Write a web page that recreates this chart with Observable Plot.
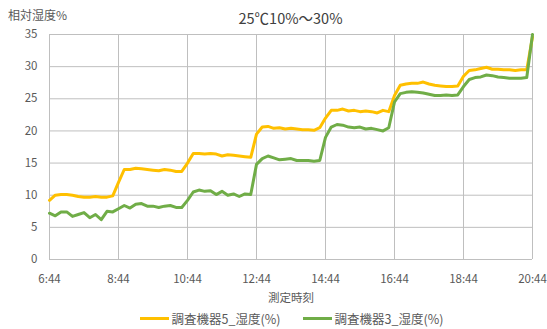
<!DOCTYPE html>
<html>
<head>
<meta charset="utf-8">
<script src="https://cdn.jsdelivr.net/npm/d3@7"></script>
<script src="https://cdn.jsdelivr.net/npm/@observablehq/plot@0.6"></script>
<style>
  html, body { margin: 0; padding: 0; background: #fff; }
  #chart { position: relative; width: 547px; height: 329px; font-family: "Noto Sans CJK JP", "Noto Sans", sans-serif; color: #595959; }
  #chart svg { position: absolute; left: 0; top: 0; }
  #title { position: absolute; left: 49px; width: 483px; top: 7px; text-align: center; font-size: 14.5px; color: #404040; }
  #ylabel { position: absolute; left: 8px; top: 6px; font-size: 12px; }
  #legend { position: absolute; left: 0; width: 547px; top: 309px; display: flex; justify-content: center; gap: 22px; font-size: 12.5px; padding-left: 36px; box-sizing: border-box; }
  .item { display: flex; align-items: center; gap: 3px; }
  .swatch { width: 29px; height: 3px; }
</style>
</head>
<body>
<div id="chart">
  <div id="title"></div>
  <div id="ylabel"></div>
  <div id="legend"></div>
</div>
<script>
// Measurement times (10-minute logging interval)
const times = [
  "6:44","6:54","7:04","7:14","7:24","7:34","7:44","7:54","8:04","8:14","8:24","8:34",
  "8:44","8:54","9:04","9:14","9:24","9:34","9:44","9:54","10:04","10:14","10:24","10:34",
  "10:44","10:54","11:04","11:14","11:24","11:34","11:44","11:54","12:04","12:14","12:24","12:34",
  "12:44","12:54","13:04","13:14","13:24","13:34","13:44","13:54","14:04","14:14","14:24","14:34",
  "14:44","14:54","15:04","15:14","15:24","15:34","15:44","15:54","16:04","16:14","16:24","16:34",
  "16:44","16:54","17:04","17:14","17:24","17:34","17:44","17:54","18:04","18:14","18:24","18:34",
  "18:44","18:54","19:04","19:14","19:24","19:34","19:44","19:54","20:04","20:14","20:24","20:34",
  "20:44"
];

// Relative humidity (%) logged by device 5
const humidity5 = [
  9.2,10.0,10.1,10.1,10.0,9.8,9.7,9.7,9.8,9.7,9.7,9.9,
  12.0,14.0,14.0,14.2,14.1,14.0,13.9,13.8,14.0,13.9,13.7,13.7,
  15.0,16.5,16.5,16.4,16.5,16.4,16.1,16.3,16.2,16.1,16.0,15.9,
  19.5,20.6,20.7,20.4,20.5,20.3,20.4,20.3,20.2,20.2,20.1,20.5,
  22.0,23.2,23.2,23.4,23.1,23.2,23.0,23.1,23.0,22.8,23.2,23.0,
  25.5,27.1,27.3,27.4,27.4,27.6,27.3,27.1,27.0,26.9,26.9,27.0,
  28.5,29.4,29.5,29.7,29.9,29.6,29.6,29.5,29.5,29.4,29.5,29.5,
  34.6
];

// Relative humidity (%) logged by device 3
const humidity3 = [
  7.2,6.8,7.4,7.4,6.7,7.0,7.3,6.5,7.0,6.2,7.5,7.4,
  7.9,8.4,8.0,8.6,8.7,8.3,8.3,8.1,8.3,8.4,8.1,8.1,
  9.2,10.5,10.8,10.6,10.7,10.1,10.6,10.0,10.2,9.8,10.2,10.1,
  14.8,15.7,16.1,15.8,15.5,15.6,15.7,15.4,15.4,15.4,15.3,15.4,
  19.0,20.6,21.0,20.9,20.6,20.5,20.6,20.3,20.4,20.2,20.0,20.5,
  24.5,25.8,26.0,26.1,26.0,25.9,25.7,25.5,25.5,25.6,25.5,25.6,
  26.9,28.0,28.3,28.4,28.7,28.6,28.4,28.3,28.2,28.2,28.2,28.3,
  35.0
];

const seriesNames = ["調査機器5_湿度(%)", "調査機器3_湿度(%)"];
const seriesColors = ["#FFC000", "#70AD47"];
const xTickLabels = ["6:44","8:44","10:44","12:44","14:44","16:44","18:44","20:44"];
const yTickValues = [0, 5, 10, 15, 20, 25, 30, 35];
const titleText = "25℃10%～30%";
const yAxisLabel = "相対湿度%";
const xAxisLabel = "測定時刻";

const parseTime = d3.utcParse("%H:%M");
const rows = [
  ...times.map((t, i) => ({time: parseTime(t), value: humidity5[i], series: seriesNames[0]})),
  ...times.map((t, i) => ({time: parseTime(t), value: humidity3[i], series: seriesNames[1]}))
];
const xTicks = xTickLabels.map(parseTime);
const gridColor = "#bfbfbf";

const plot = Plot.plot({
  width: 547,
  height: 305,
  marginTop: 34,
  marginLeft: 49,
  marginRight: 15,
  marginBottom: 46,
  style: {fontFamily: '"Noto Sans CJK JP", "Noto Sans", sans-serif', fontSize: "11.5px", color: "#595959", background: "transparent"},
  x: {type: "utc", domain: [xTicks[0], xTicks[xTicks.length - 1]]},
  y: {domain: [0, 35]},
  color: {domain: seriesNames, range: seriesColors},
  marks: [
    Plot.gridY(yTickValues, {stroke: gridColor, strokeOpacity: 1, strokeWidth: 1}),
    Plot.gridX(xTicks, {stroke: gridColor, strokeOpacity: 1, strokeWidth: 1}),
    Plot.axisY(yTickValues, {tickSize: 0, tickPadding: 12, label: null}),
    Plot.axisX(xTicks, {
      tickSize: 0, tickPadding: 15,
      tickFormat: d3.utcFormat("%-H:%M"),
      label: xAxisLabel, labelAnchor: "center", labelArrow: "none", labelOffset: 42
    }),
    Plot.line(rows, {x: "time", y: "value", z: "series", stroke: "series", strokeWidth: 3, strokeLinejoin: "round", strokeLinecap: "round"})
  ]
});
document.getElementById("chart").appendChild(plot);

document.getElementById("title").textContent = titleText;
document.getElementById("ylabel").textContent = yAxisLabel;

const legend = document.getElementById("legend");
seriesNames.forEach((name, i) => {
  const item = document.createElement("div");
  item.className = "item";
  const sw = document.createElement("div");
  sw.className = "swatch";
  sw.style.background = seriesColors[i];
  const label = document.createElement("span");
  label.textContent = name;
  item.appendChild(sw);
  item.appendChild(label);
  legend.appendChild(item);
});
</script>
</body>
</html>
